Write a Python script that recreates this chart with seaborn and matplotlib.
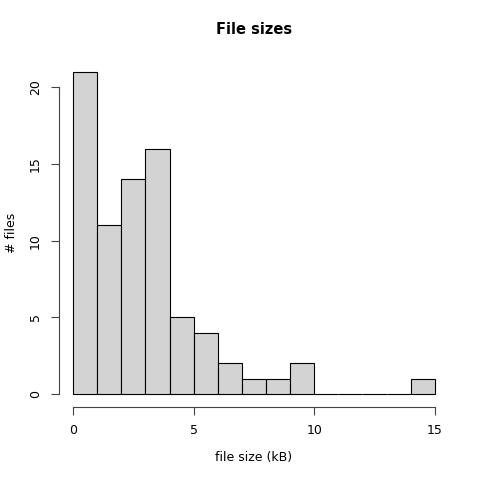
import numpy as np
import pandas as pd
import matplotlib
matplotlib.use('Agg')
import matplotlib.pyplot as plt
import seaborn as sns

# histogram counts per 1 kB bin, 0..15
bin_edges = list(range(0, 16))
counts = [21, 11, 14, 16, 5, 4, 2, 1, 1, 2, 0, 0, 0, 0, 1]

sns.set_style('white')
plt.rcParams['font.family'] = ['DejaVu Sans']
plt.rcParams['text.color'] = 'black'
plt.rcParams['axes.labelcolor'] = 'black'
plt.rcParams['xtick.labelcolor'] = 'black'
plt.rcParams['ytick.labelcolor'] = 'black'

mids = [e + 0.5 for e in bin_edges[:-1]]
df = pd.DataFrame({'size': mids, 'n': counts})

fig = plt.figure(figsize=(4.8, 4.8), dpi=100)
ax = fig.add_axes([0.122, 0.152, 0.814, 0.725])
sns.histplot(data=df, x='size', weights='n', bins=bin_edges, ax=ax,
             color='#d3d3d3', edgecolor='black', linewidth=0.8, alpha=1)

ax.set_xlim(-0.6, 15.6)
ax.set_ylim(-0.84, 21.84)
ax.set_xticks([0, 5, 10, 15])
ax.set_yticks([0, 5, 10, 15, 20])
for s in ['top', 'right']:
    ax.spines[s].set_visible(False)
ax.spines['bottom'].set_bounds(0, 15)
ax.spines['left'].set_bounds(0, 20)
for s in ['bottom', 'left']:
    ax.spines[s].set_color('#444444')
    ax.spines[s].set_linewidth(0.8)
ax.tick_params(axis='both', direction='out', length=6, width=0.8, color='#444444',
               labelsize=9, pad=6, bottom=True, left=True)
plt.setp(ax.get_yticklabels(), rotation=90, va='center')

ax.set_xlabel('file size (kB)', fontsize=9, labelpad=10)
ax.set_ylabel('# files', fontsize=9, labelpad=8)
ax.set_title('File sizes', fontsize=10.5, fontweight='bold', pad=18, color='black')

fig.savefig('out.png', dpi=100)
